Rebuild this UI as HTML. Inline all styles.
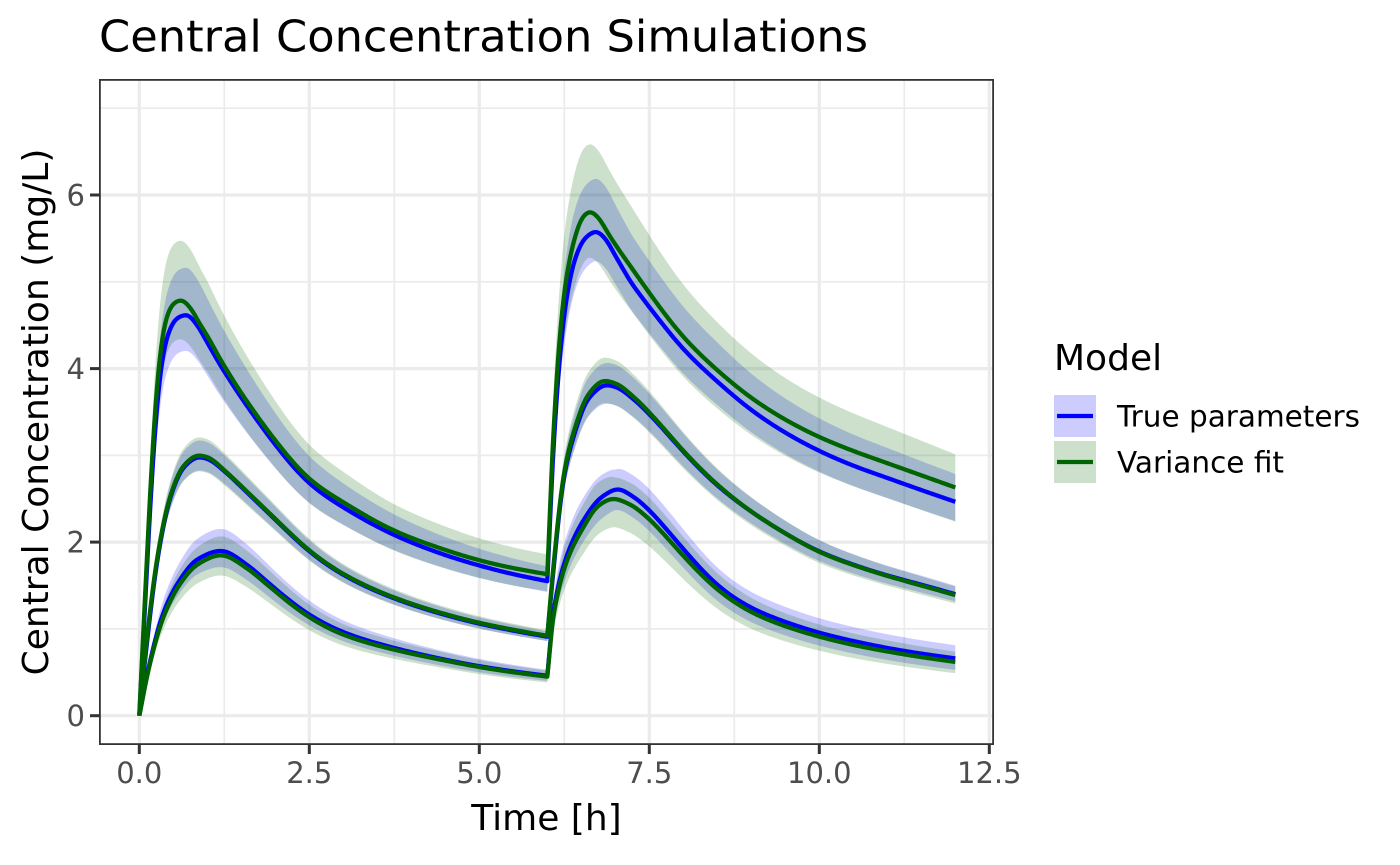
<!DOCTYPE html>
<html>
<head>
<meta charset="utf-8">
<style>
  html,body{margin:0;padding:0;background:#fff;}
  svg{display:block;}
  text{font-family:"DejaVu Sans","Liberation Sans",sans-serif;}
</style>
</head>
<body>
<svg id="chart" width="1400" height="865" viewBox="0 0 1400 865" xmlns="http://www.w3.org/2000/svg">
  <rect x="0" y="0" width="1400" height="865" fill="#ffffff"/>
  <defs>
    <clipPath id="panelClip"><rect x="99" y="79" width="895" height="666"/></clipPath>
  </defs>
  <rect x="99" y="79" width="895" height="666" fill="#ffffff"/>
  <g stroke="#EBEBEB" stroke-width="1.7" fill="none">
    <line x1="99" x2="994" y1="628.9" y2="628.9"/>
    <line x1="99" x2="994" y1="455.4" y2="455.4"/>
    <line x1="99" x2="994" y1="281.8" y2="281.8"/>
    <line x1="99" x2="994" y1="108.2" y2="108.2"/>
    <line y1="79" y2="745" x1="224.3" x2="224.3"/>
    <line y1="79" y2="745" x1="394.3" x2="394.3"/>
    <line y1="79" y2="745" x1="564.3" x2="564.3"/>
    <line y1="79" y2="745" x1="734.3" x2="734.3"/>
    <line y1="79" y2="745" x1="904.3" x2="904.3"/>
  </g>
  <g stroke="#EBEBEB" stroke-width="3.2" fill="none">
    <line x1="99" x2="994" y1="715.7" y2="715.7"/>
    <line x1="99" x2="994" y1="542.1" y2="542.1"/>
    <line x1="99" x2="994" y1="368.6" y2="368.6"/>
    <line x1="99" x2="994" y1="195.0" y2="195.0"/>
    <line y1="79" y2="745" x1="139.3" x2="139.3"/>
    <line y1="79" y2="745" x1="309.3" x2="309.3"/>
    <line y1="79" y2="745" x1="479.3" x2="479.3"/>
    <line y1="79" y2="745" x1="649.3" x2="649.3"/>
    <line y1="79" y2="745" x1="819.3" x2="819.3"/>
    <line y1="79" y2="745" x1="989.3" x2="989.3"/>
  </g>
  <g id="data" clip-path="url(#panelClip)"></g>
  <rect x="99.9" y="79.9" width="893.2" height="664.2" fill="none" stroke="#333333" stroke-width="1.8"/>
  <g stroke="#333333" stroke-width="3">
    <line x1="139.3" x2="139.3" y1="745" y2="754"/>
    <line x1="309.3" x2="309.3" y1="745" y2="754"/>
    <line x1="479.3" x2="479.3" y1="745" y2="754"/>
    <line x1="649.3" x2="649.3" y1="745" y2="754"/>
    <line x1="819.3" x2="819.3" y1="745" y2="754"/>
    <line x1="989.3" x2="989.3" y1="745" y2="754"/>
    <line x1="90" x2="99" y1="715.7" y2="715.7"/>
    <line x1="90" x2="99" y1="542.1" y2="542.1"/>
    <line x1="90" x2="99" y1="368.6" y2="368.6"/>
    <line x1="90" x2="99" y1="195.0" y2="195.0"/>
  </g>
  <g fill="#4D4D4D" font-size="29" text-anchor="middle">
    <text x="139.3" y="783">0.0</text>
    <text x="309.3" y="783">2.5</text>
    <text x="479.3" y="783">5.0</text>
    <text x="649.3" y="783">7.5</text>
    <text x="819.3" y="783">10.0</text>
    <text x="989.3" y="783">12.5</text>
  </g>
  <g fill="#4D4D4D" font-size="29" text-anchor="end">
    <text x="85" y="726.2">0</text>
    <text x="85" y="552.6">2</text>
    <text x="85" y="379.1">4</text>
    <text x="85" y="205.5">6</text>
  </g>
  <text x="546.5" y="830" font-size="36" text-anchor="middle" fill="#000">Time [h]</text>
  <text transform="translate(48,412) rotate(-90)" x="0" y="0" font-size="36" text-anchor="middle" fill="#000">Central Concentration (mg/L)</text>
  <text x="99" y="51.5" font-size="44" fill="#000" textLength="769" lengthAdjust="spacingAndGlyphs">Central Concentration Simulations</text>
  <text x="1054" y="370" font-size="36" fill="#000">Model</text>
  <rect x="1054" y="395" width="42" height="42" fill="rgba(0,0,255,0.2)"/>
  <line x1="1057" x2="1093" y1="416" y2="416" stroke="#0000FF" stroke-width="4.3"/>
  <rect x="1054" y="441" width="42" height="42" fill="rgba(0,100,0,0.2)"/>
  <line x1="1057" x2="1093" y1="462" y2="462" stroke="#006400" stroke-width="4.3"/>
  <text x="1117" y="426.5" font-size="29.3" fill="#000" textLength="243" lengthAdjust="spacingAndGlyphs">True parameters</text>
  <text x="1117" y="472.5" font-size="29.3" fill="#000" textLength="167" lengthAdjust="spacingAndGlyphs">Variance fit</text>
</svg>
<script>
(function(){
  var X = function(t){ return 139.3 + t*68; };
  var Y = function(c){ return 715.7 - c*86.78; };

  function pchip(P){
    var n=P.length, x=[], y=[], h=[], d=[], m=[], i;
    for(i=0;i<n;i++){ x.push(P[i][0]); y.push(P[i][1]); }
    for(i=0;i<n-1;i++){ h[i]=x[i+1]-x[i]; d[i]=(y[i+1]-y[i])/h[i]; }
    m[0]=d[0]; m[n-1]=d[n-2];
    for(i=1;i<n-1;i++){
      if(d[i-1]*d[i]<=0){ m[i]=0; }
      else { var w1=2*h[i]+h[i-1], w2=h[i]+2*h[i-1]; m[i]=(w1+w2)/(w1/d[i-1]+w2/d[i]); }
    }
    return function(t){
      var k=0; while(k<n-2 && t>x[k+1]) k++;
      var hh=h[k], s=(t-x[k])/hh, s2=s*s, s3=s2*s;
      return (2*s3-3*s2+1)*y[k]+(s3-2*s2+s)*hh*m[k]+(-2*s3+3*s2)*y[k+1]+(s3-s2)*hh*m[k+1];
    };
  }
  function lin(K){
    return function(t){
      if(t<=K[0][0]) return [K[0][1],K[0][2]];
      for(var i=0;i<K.length-1;i++){
        if(t<=K[i+1][0]){
          var a=(t-K[i][0])/(K[i+1][0]-K[i][0]);
          return [K[i][1]+a*(K[i+1][1]-K[i][1]), K[i][2]+a*(K[i+1][2]-K[i][2])];
        }
      }
      var L=K[K.length-1]; return [L[1],L[2]];
    };
  }
  function gsmooth(v, sig){
    var n=v.length, r=Math.ceil(3*sig), out=[];
    for(var i=0;i<n;i++){
      var s=0, ws=0;
      for(var j=-r;j<=r;j++){
        var k=i+j, val;
        if(k<0){ var kk=-k; if(kk>=n) continue; val=2*v[0]-v[kk]; }
        else if(k>=n){ var k2=2*(n-1)-k; if(k2<0) continue; val=2*v[n-1]-v[k2]; }
        else val=v[k];
        var w=Math.exp(-j*j/(2*sig*sig)); s+=w*val; ws+=w;
      }
      out.push(s/ws);
    }
    return out;
  }
  function clamp(a){ return a<0?0:(a>1?1:a); }
  function peakT(P){ var b=P[0]; for(var i=1;i<P.length;i++) if(P[i][1]>b[1]) b=P[i]; return b[0]; }

  var series = [
    {col:'blue', d1:[[0,0],[0.1,1.5],[0.2,2.95],[0.3,3.9],[0.4,4.35],[0.55,4.58],[0.7,4.62],[0.85,4.5],[1.0,4.3],[1.25,3.96],[1.6,3.55],[2.0,3.12],[2.5,2.67],[3.0,2.4],[3.75,2.08],[4.5,1.85],[5.0,1.73],[5.5,1.63],[6.0,1.55]],
      d2:[[6.0,1.55],[6.1,3.2],[6.2,4.3],[6.3,4.9],[6.4,5.25],[6.55,5.5],[6.72,5.58],[6.85,5.5],[7.0,5.3],[7.12,5.14],[7.25,4.96],[7.5,4.71],[8.0,4.22],[8.5,3.85],[9.0,3.52],[9.5,3.26],[10.0,3.05],[10.5,2.88],[11.0,2.74],[11.5,2.60],[12.0,2.465]],
      fr:[[0,.12,.09],[6,.11,.08],[6.7,.11,.06],[12,.13,.09]]},
    {col:'blue', d1:[[0,0],[0.1,0.75],[0.25,1.72],[0.45,2.5],[0.65,2.86],[0.88,2.98],[1.0,2.96],[1.25,2.82],[1.6,2.56],[2.0,2.26],[2.5,1.89],[3.0,1.62],[3.75,1.35],[4.5,1.16],[5.0,1.06],[5.5,0.98],[6.0,0.91]],
      d2:[[6.0,0.91],[6.1,1.75],[6.235,2.72],[6.4,3.25],[6.6,3.65],[6.87,3.81],[7.0,3.79],[7.25,3.66],[7.5,3.48],[8.0,3.04],[8.5,2.65],[9.0,2.35],[9.5,2.10],[10.0,1.89],[10.5,1.74],[11.0,1.615],[11.5,1.51],[12.0,1.40]],
      fr:[[0,.065,.05],[12,.07,.06]]},
    {col:'blue', d1:[[0,0],[0.15,0.6],[0.35,1.18],[0.6,1.57],[0.85,1.8],[1.2,1.9],[1.6,1.73],[2.0,1.46],[2.5,1.16],[3.0,0.96],[3.75,0.78],[4.5,0.645],[5.0,0.57],[5.5,0.51],[6.0,0.46]],
      d2:[[6.0,0.46],[6.1,1.25],[6.28,1.83],[6.53,2.25],[6.8,2.52],[7.04,2.61],[7.25,2.53],[7.5,2.37],[8.0,1.92],[8.5,1.50],[9.0,1.24],[9.5,1.08],[10.0,0.955],[10.5,0.86],[11.0,0.78],[11.5,0.715],[12.0,0.66]],
      fr:[[0,.13,.09],[6,.15,.13],[7,.09,.09],[12,.23,.2]]},
    {col:'green', d1:[[0,0],[0.1,1.62],[0.2,3.15],[0.3,4.15],[0.4,4.6],[0.5,4.75],[0.62,4.79],[0.75,4.7],[0.9,4.5],[1.0,4.38],[1.25,4.02],[1.6,3.6],[2.0,3.17],[2.5,2.72],[3.0,2.46],[3.75,2.13],[4.5,1.91],[5.0,1.79],[5.5,1.7],[6.0,1.63]],
      d2:[[6.0,1.63],[6.1,3.4],[6.2,4.55],[6.3,5.15],[6.4,5.5],[6.52,5.75],[6.63,5.81],[6.75,5.74],[6.9,5.55],[7.12,5.29],[7.25,5.15],[7.5,4.87],[8.0,4.36],[8.5,3.98],[9.0,3.66],[9.5,3.41],[10.0,3.21],[10.5,3.05],[11.0,2.91],[11.5,2.77],[12.0,2.63]],
      fr:[[0,.145,.09],[6,.14,.12],[6.6,.135,.09],[12,.145,.15]]},
    {col:'green', d1:[[0,0],[0.1,0.8],[0.25,1.76],[0.45,2.52],[0.65,2.88],[0.87,3.0],[1.0,2.98],[1.25,2.83],[1.6,2.57],[2.0,2.27],[2.5,1.9],[3.0,1.63],[3.75,1.36],[4.5,1.17],[5.0,1.07],[5.5,0.99],[6.0,0.92]],
      d2:[[6.0,0.92],[6.1,1.8],[6.235,2.76],[6.4,3.3],[6.6,3.7],[6.84,3.86],[7.0,3.83],[7.25,3.69],[7.5,3.5],[8.0,3.05],[8.5,2.66],[9.0,2.35],[9.5,2.10],[10.0,1.885],[10.5,1.735],[11.0,1.61],[11.5,1.50],[12.0,1.39]],
      fr:[[0,.07,.06],[12,.07,.07]]},
    {col:'green', d1:[[0,0],[0.15,0.58],[0.35,1.13],[0.6,1.52],[0.85,1.74],[1.2,1.85],[1.6,1.69],[2.0,1.43],[2.5,1.13],[3.0,0.93],[3.75,0.76],[4.5,0.635],[5.0,0.56],[5.5,0.5],[6.0,0.45]],
      d2:[[6.0,0.45],[6.1,1.2],[6.28,1.77],[6.53,2.17],[6.75,2.42],[6.97,2.5],[7.2,2.44],[7.5,2.27],[8.0,1.84],[8.5,1.45],[9.0,1.19],[9.5,1.03],[10.0,0.91],[10.5,0.815],[11.0,0.74],[11.5,0.675],[12.0,0.62]],
      fr:[[0,.11,.12],[6,.15,.15],[7,.1,.13],[12,.19,.21]]}
  ];

  var DT=0.02, N=300;
  var NS='http://www.w3.org/2000/svg';
  var g=document.getElementById('data');
  var ribbons={blue:[],green:[]}, lines={blue:[],green:[]};

  function segment(P, t0){
    var f=pchip(P), tp=peakT(P)-t0, ts=[], v=[], i;
    for(i=0;i<=N;i++){ var t=t0+i*DT; ts.push(t); v.push(Math.max(0,f(t))); }
    var s1=gsmooth(v, 2), s2=gsmooth(v, 8), out=[];
    for(i=0;i<=N;i++){
      var tau=ts[i]-t0;
      var a=clamp((tau-0.08)/0.1), b=clamp((tau-(tp+0.3))/0.4);
      out.push(v[i]*(1-a) + a*((1-b)*s1[i] + b*s2[i]));
    }
    return {ts:ts, v:out};
  }

  series.forEach(function(s){
    var A=segment(s.d1,0), B=segment(s.d2,6);
    var ts=A.ts.concat(B.ts.slice(1)), vs=A.v.concat(B.v.slice(1));
    var fr=lin(s.fr);
    var up=[], lo=[], ln=[];
    for(var i=0;i<ts.length;i++){
      var t=ts[i], c=vs[i], q=fr(t), x=X(t).toFixed(2);
      ln.push(x+','+Y(c).toFixed(2));
      up.push(x+','+Y(c*(1+q[0])).toFixed(2));
      lo.push(x+','+Y(c*(1-q[1])).toFixed(2));
    }
    lo.reverse();
    ribbons[s.col].push('M'+up.join('L')+'L'+lo.join('L')+'Z');
    lines[s.col].push('M'+ln.join('L'));
  });

  function add(d, attrs){
    var p=document.createElementNS(NS,'path');
    p.setAttribute('d',d);
    for(var k in attrs) p.setAttribute(k,attrs[k]);
    g.appendChild(p);
  }
  ribbons.blue.forEach(function(d){ add(d,{fill:'rgba(0,0,255,0.2)',stroke:'none'}); });
  ribbons.green.forEach(function(d){ add(d,{fill:'rgba(0,100,0,0.2)',stroke:'none'}); });
  lines.blue.forEach(function(d){ add(d,{fill:'none',stroke:'#0000FF','stroke-width':'4.3','stroke-linejoin':'round','stroke-linecap':'butt'}); });
  lines.green.forEach(function(d){ add(d,{fill:'none',stroke:'#006400','stroke-width':'4.3','stroke-linejoin':'round','stroke-linecap':'butt'}); });
})();
</script>
</body>
</html>
